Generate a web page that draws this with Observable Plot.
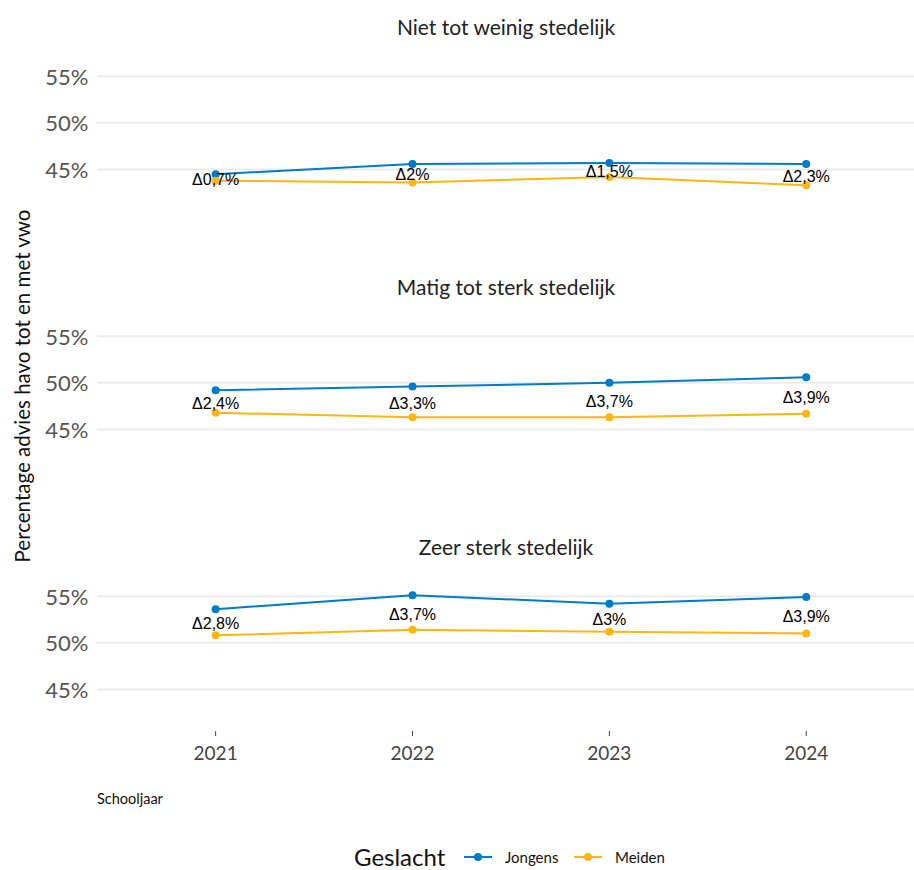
<!DOCTYPE html>
<html>
<head>
<meta charset="utf-8">
<script src="https://cdn.jsdelivr.net/npm/d3@7"></script>
<script src="https://cdn.jsdelivr.net/npm/@observablehq/plot@0.6"></script>
<style>
  body { margin: 0; background: #fff; font-family: Lato, "Open Sans", sans-serif; overflow: hidden; }
  #wrap { position: relative; width: 914px; height: 870px; }
  #ylab { position: absolute; left: 22px; top: 386px; transform: translate(-50%, -50%) rotate(-90deg); white-space: nowrap; font-size: 20.5px; color: #111; }
  #xlab { position: absolute; left: 97px; top: 790px; font-size: 14.5px; color: #111; }
  #legend { position: absolute; left: 0; top: 845px; width: 914px; height: 24px; }
  #legend .title { position: absolute; left: 354px; top: 0; font-size: 24px; line-height: 24px; color: #111; }
  #legend .item { position: absolute; top: 3px; height: 18px; line-height: 18px; display: flex; align-items: center; font-size: 15px; color: #111; }
  #legend svg { margin-right: 13px; }
</style>
</head>
<body>
<div id="wrap">
  <div id="chart"></div>
  <div id="ylab">Percentage advies havo tot en met vwo</div>
  <div id="xlab">Schooljaar</div>
  <div id="legend"></div>
</div>
<script>
const years = [2021, 2022, 2023, 2024];
const regions = ["Niet tot weinig stedelijk", "Matig tot sterk stedelijk", "Zeer sterk stedelijk"];
const groups = ["Jongens", "Meiden"];
const colors = ["#007BC7", "#FFB612"];
const yTicks = [45, 50, 55];
// percentages per region (rows) and year (columns)
const jongens = [
  [44.5, 45.6, 45.7, 45.6],
  [49.2, 49.6, 50.0, 50.6],
  [53.6, 55.1, 54.2, 54.9]
];
const meiden = [
  [43.8, 43.6, 44.2, 43.3],
  [46.8, 46.3, 46.3, 46.7],
  [50.8, 51.4, 51.2, 51.0]
];
const deltaLabels = [
  ["Δ0,7%", "Δ2%", "Δ1,5%", "Δ2,3%"],
  ["Δ2,4%", "Δ3,3%", "Δ3,7%", "Δ3,9%"],
  ["Δ2,8%", "Δ3,7%", "Δ3%", "Δ3,9%"]
];

const rows = [];
const deltas = [];
regions.forEach((r, i) => {
  years.forEach((y, j) => {
    rows.push({region: r, year: y, geslacht: "Jongens", value: jongens[i][j]});
    rows.push({region: r, year: y, geslacht: "Meiden", value: meiden[i][j]});
    deltas.push({region: r, year: y, mid: (jongens[i][j] + meiden[i][j]) / 2, label: deltaLabels[i][j]});
  });
});

const chart = Plot.plot({
  width: 914,
  height: 820,
  marginLeft: 97,
  marginRight: 0,
  marginTop: 43,
  marginBottom: 88.5,
  style: {fontFamily: "Lato, 'Open Sans', sans-serif", color: "#444", background: "#fff"},
  x: {domain: [2020.4, 2024.55]},
  y: {domain: [40.5, 58.5]},
  fy: {domain: regions, paddingInner: 0.352, paddingOuter: 0, axis: null},
  color: {domain: groups, range: colors},
  marks: [
    Plot.gridY(yTicks, {stroke: "#ebebeb", strokeWidth: 2, strokeOpacity: 1}),
    Plot.axisY(yTicks, {tickSize: 0, tickPadding: 9, tickFormat: d => d + "%", fontSize: 22, fill: "#555", dy: 1.5, label: null}),
    Plot.axisX(years, {tickSize: 5, tickPadding: 10, tickFormat: d => String(d), fontSize: 19, fill: "#444", stroke: "#444", label: null}),
    Plot.line(rows, {x: "year", y: "value", z: "geslacht", stroke: "geslacht", fy: "region", strokeWidth: 2}),
    Plot.dot(rows, {x: "year", y: "value", fill: "geslacht", fy: "region", r: 4}),
    Plot.text(deltas, {x: "year", y: "mid", fy: "region", text: "label", dy: 2, fontSize: 16, fill: "#000", fontFamily: "'Liberation Sans', Arial, sans-serif"}),
    Plot.text(regions, {fy: d => d, text: d => d, frameAnchor: "top", dy: -23, fontSize: 21, fill: "#222"})
  ]
});
document.getElementById("chart").appendChild(chart);

const legend = document.getElementById("legend");
const t = document.createElement("span");
t.className = "title";
t.textContent = "Geslacht";
legend.appendChild(t);
const itemLeft = [464, 574];
groups.forEach((g, i) => {
  const item = document.createElement("span");
  item.className = "item";
  item.style.left = itemLeft[i] + "px";
  item.innerHTML = `<svg width="28" height="12"><line x1="0" y1="6" x2="28" y2="6" stroke="${colors[i]}" stroke-width="2"/><circle cx="14" cy="6" r="4" fill="${colors[i]}"/></svg>${g}`;
  legend.appendChild(item);
});
</script>
</body>
</html>
